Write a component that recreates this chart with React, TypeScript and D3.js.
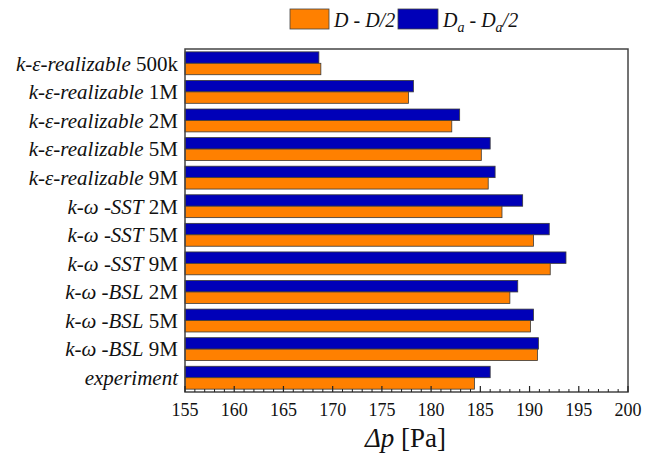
import React, { useEffect, useRef } from "react";
import * as d3 from "d3";

// 模型名 (斜体部分, 正体部分)
const models = [
  ["k-ε-realizable", "500k"],
  ["k-ε-realizable", "1M"],
  ["k-ε-realizable", "2M"],
  ["k-ε-realizable", "5M"],
  ["k-ε-realizable", "9M"],
  ["k-ω -SST", "2M"],
  ["k-ω -SST", "5M"],
  ["k-ω -SST", "9M"],
  ["k-ω -BSL", "2M"],
  ["k-ω -BSL", "5M"],
  ["k-ω -BSL", "9M"],
  ["experiment", ""],
];
const seriesDa = [168.6, 178.2, 182.9, 186.0, 186.5, 189.3, 192.0, 193.7, 188.8, 190.4, 190.9, 186.0];
const seriesD = [168.8, 177.7, 182.1, 185.1, 185.8, 187.2, 190.4, 192.1, 188.0, 190.1, 190.8, 184.4];
const xTicks = [155, 160, 165, 170, 175, 180, 185, 190, 195, 200];

const BLUE = "#0000b8";
const ORANGE = "#ff8000";

export default function App() {
  const ref = useRef<SVGSVGElement>(null);

  useEffect(() => {
    const svg = d3.select(ref.current);
    svg.selectAll("*").remove();
    const margin = { top: 49, left: 185, right: 30, bottom: 64 };
    const W = 658, H = 456;
    const width = W - margin.left - margin.right;
    const height = H - margin.top - margin.bottom;

    const g = svg.append("g").attr("transform", `translate(${margin.left},${margin.top})`);

    const x = d3.scaleLinear().domain([155, 200]).range([0, width]);
    const y = d3
      .scaleBand<number>()
      .domain(models.map((_, i) => i))
      .range([0, height])
      .paddingInner(0.2)
      .paddingOuter(0.1);
    const ys = d3.scaleBand<string>().domain(["Da", "D"]).range([0, y.bandwidth()]);

    // 柱子
    const rows = models.map((_, i) => ({ i, Da: seriesDa[i], D: seriesD[i] }));
    (["Da", "D"] as const).forEach((key) => {
      g.append("g")
        .selectAll("rect")
        .data(rows)
        .enter()
        .append("rect")
        .attr("x", 0)
        .attr("y", (d) => (y(d.i) as number) + (ys(key) as number))
        .attr("width", (d) => x(d[key]))
        .attr("height", ys.bandwidth())
        .attr("fill", key === "Da" ? BLUE : ORANGE)
        .attr("stroke", "#3a3a3a")
        .attr("stroke-width", 0.8);
    });

    // 边框
    g.append("rect")
      .attr("x", 0)
      .attr("y", 0)
      .attr("width", width)
      .attr("height", height)
      .attr("fill", "none")
      .attr("stroke", "#444")
      .attr("stroke-width", 1.5);

    // x轴 (刻度朝内)
    const minor = d3.range(155, 201, 1).filter((v) => v % 5 !== 0);
    const ax = g.append("g").attr("transform", `translate(0,${height})`);
    ax.selectAll(".maj")
      .data(xTicks)
      .enter()
      .append("line")
      .attr("x1", (d) => x(d))
      .attr("x2", (d) => x(d))
      .attr("y1", 0)
      .attr("y2", -6)
      .attr("stroke", "#222")
      .attr("stroke-width", 1.2);
    ax.selectAll(".min")
      .data(minor)
      .enter()
      .append("line")
      .attr("x1", (d) => x(d))
      .attr("x2", (d) => x(d))
      .attr("y1", 0)
      .attr("y2", -3)
      .attr("stroke", "#222")
      .attr("stroke-width", 1);
    ax.selectAll("text")
      .data(xTicks)
      .enter()
      .append("text")
      .attr("x", (d) => x(d))
      .attr("y", 24)
      .attr("text-anchor", "middle")
      .attr("font-size", 18)
      .attr("fill", "#111")
      .text((d) => d);

    // x轴标题
    const title = svg
      .append("text")
      .attr("x", margin.left + width / 2 - 1)
      .attr("y", 447)
      .attr("text-anchor", "middle")
      .attr("font-size", 27)
      .attr("fill", "#111");
    title.append("tspan").attr("font-style", "italic").text("Δp");
    title.append("tspan").text(" [Pa]");

    // y轴标签
    g.append("g")
      .selectAll("text")
      .data(models)
      .enter()
      .append("text")
      .attr("x", -7)
      .attr("y", (_, i) => (y(i) as number) + y.bandwidth() / 2)
      .attr("dy", "0.35em")
      .attr("text-anchor", "end")
      .attr("font-size", 21)
      .attr("fill", "#111")
      .each(function (d) {
        const t = d3.select(this);
        t.append("tspan").attr("font-style", "italic").text(d[0]);
        if (d[1]) t.append("tspan").text(" " + d[1]);
      });

    // 图例
    const lg = svg.append("g").attr("font-size", 20).attr("fill", "#111");
    lg.append("rect").attr("x", 290).attr("y", 9).attr("width", 39).attr("height", 20)
      .attr("fill", ORANGE).attr("stroke", "#444").attr("stroke-width", 0.8);
    const t1 = lg.append("text").attr("x", 334).attr("y", 27);
    t1.append("tspan").attr("font-style", "italic").text("D");
    t1.append("tspan").text(" - ");
    t1.append("tspan").attr("font-style", "italic").text("D/2");
    lg.append("rect").attr("x", 398).attr("y", 9).attr("width", 40).attr("height", 20)
      .attr("fill", BLUE).attr("stroke", "#444").attr("stroke-width", 0.8);
    const t2 = lg.append("text").attr("x", 443).attr("y", 27);
    t2.append("tspan").attr("font-style", "italic").text("D");
    t2.append("tspan").attr("font-style", "italic").attr("font-size", 14).attr("dy", 5).text("a");
    t2.append("tspan").attr("dy", -5).text(" - ");
    t2.append("tspan").attr("font-style", "italic").text("D");
    t2.append("tspan").attr("font-style", "italic").attr("font-size", 14).attr("dy", 5).text("a");
    t2.append("tspan").attr("font-style", "italic").attr("dy", -5).text("/2");
  }, []);

  return (
    <svg
      ref={ref}
      width={658}
      height={456}
      fontFamily="Liberation Serif, Times New Roman, serif"
      style={{ position: "absolute", left: 0, top: 0, background: "#fff" }}
    />
  );
}
